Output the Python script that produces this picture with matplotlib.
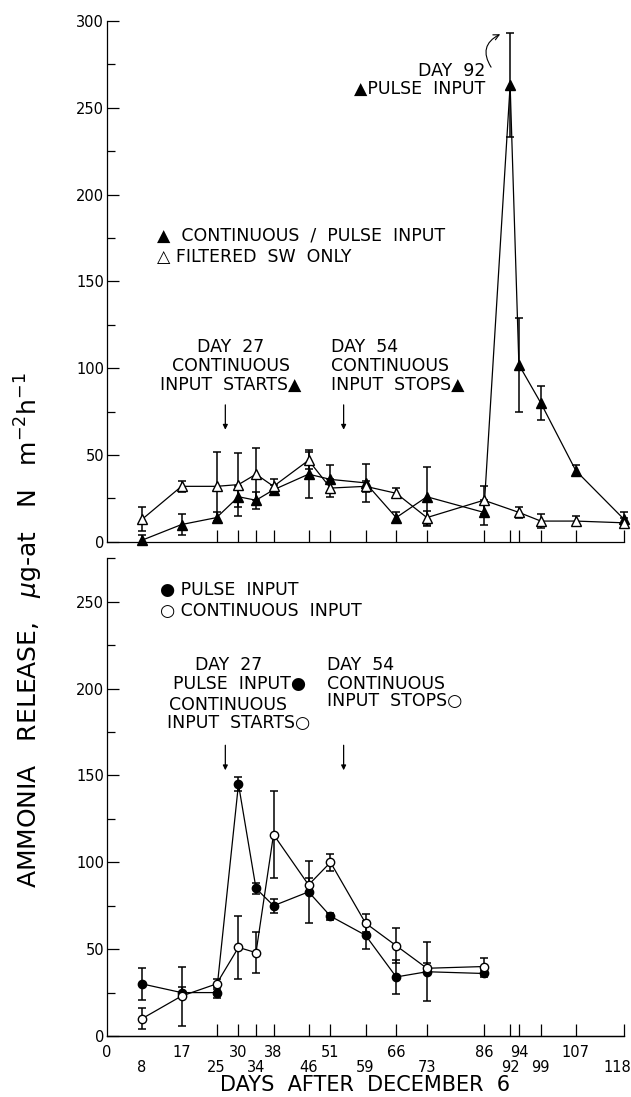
import numpy as np
import matplotlib.pyplot as plt
from matplotlib.ticker import MultipleLocator
from matplotlib.transforms import ScaledTranslation

# sample days (days after December 6)
days_top = [8, 17, 25, 30, 34, 38, 46, 51, 59, 66, 73, 86, 92, 94, 99, 107, 118]
pulse_top = [1, 10, 14, 26, 24, 30, 39, 36, 34, 14, 26, 17, 263, 102, 80, 41, 13]
pulse_top_err = [3, 6, 3, 6, 5, 3, 14, 8, 11, 3, 17, 7, 30, 27, 10, 3, 4]

days_filt = [8, 17, 25, 30, 34, 38, 46, 51, 59, 66, 73, 86, 94, 99, 107, 118]
filt_top = [13, 32, 32, 33, 39, 32, 47, 31, 32, 28, 14, 24, 17, 12, 12, 11]
filt_top_err = [7, 3, 20, 18, 15, 4, 5, 5, 3, 3, 4, 8, 3, 4, 3, 3]

days_bot = [8, 17, 25, 30, 34, 38, 46, 51, 59, 66, 73, 86]
pulse_bot = [30, 25, 25, 145, 85, 75, 83, 69, 58, 34, 37, 36]
pulse_bot_err = [9, 3, 3, 4, 3, 4, 18, 2, 8, 10, 17, 2]
cont_bot = [10, 23, 30, 51, 48, 116, 87, 100, 65, 52, 39, 40]
cont_bot_err = [6, 17, 3, 18, 12, 25, 4, 5, 5, 10, 3, 5]

row1_days = [0, 17, 30, 38, 51, 66, 86, 94, 107]
row2_days = [8, 25, 34, 46, 59, 73, 92, 99, 118]
mark_days = [25, 30, 34, 38, 46, 51, 59, 66, 73, 86, 92, 94, 99, 107, 118]

fig = plt.figure(figsize=(6.31, 10.97), dpi=100)
ax1 = fig.add_axes([0.1696, 0.506, 0.8194, 0.475])
ax2 = fig.add_axes([0.1696, 0.0556, 0.8194, 0.4354])

ebkw = dict(color='black', ecolor='black', lw=0.9, elinewidth=1.1,
            capsize=3, capthick=1.1, clip_on=False)
fs = 12.5


def style_axes(ax, ymax):
    ax.set_xlim(0, 118)
    ax.set_ylim(0, ymax)
    for s in ['top', 'right']:
        ax.spines[s].set_visible(False)
    for s in ['left', 'bottom']:
        ax.spines[s].set_linewidth(0.9)
    ax.yaxis.set_major_locator(MultipleLocator(50))
    ax.yaxis.set_minor_locator(MultipleLocator(25))
    ax.tick_params(axis='y', which='major', direction='in', length=8.5,
                   width=0.9, labelsize=10.5, pad=2)
    ax.tick_params(axis='y', which='minor', direction='in', length=6, width=0.9)


# top panel
ax1.errorbar(days_top, pulse_top, yerr=pulse_top_err, fmt='-^', ms=6.5,
             mfc='black', mec='black', zorder=3, **ebkw)
ax1.errorbar(days_filt, filt_top, yerr=filt_top_err, fmt='-^', ms=6.5,
             mfc='white', mec='black', zorder=4, **ebkw)
style_axes(ax1, 300)
ax1.set_xticks(mark_days, [''] * len(mark_days))
ax1.tick_params(axis='x', which='major', direction='in', length=8.5, width=0.9)

ax1.text(86.3, 271, 'DAY  92', ha='right', va='center', fontsize=fs)
ax1.text(86.3, 261, '\u25b2PULSE  INPUT', ha='right', va='center', fontsize=fs)
ax1.annotate('', xy=(90.3, 293), xytext=(88.0, 272),
             arrowprops=dict(arrowstyle='->', lw=0.8,
                             connectionstyle='arc3,rad=-0.6'))
ax1.text(11.4, 176, '\u25b2  CONTINUOUS  /  PULSE  INPUT', ha='left', va='center', fontsize=fs)
ax1.text(11.4, 164, '\u25b3 FILTERED  SW  ONLY', ha='left', va='center', fontsize=fs)
ax1.text(28.3, 101.3, 'DAY  27\nCONTINUOUS\nINPUT  STARTS\u25b2', ha='center',
         va='center', fontsize=fs, linespacing=1.05)
ax1.text(51.1, 101.3, 'DAY  54\nCONTINUOUS\nINPUT  STOPS\u25b2', ha='left',
         va='center', fontsize=fs, linespacing=1.05)
for d in [27, 54]:
    ax1.annotate('', xy=(d, 63), xytext=(d, 80.5),
                 arrowprops=dict(arrowstyle='-|>', lw=0.9, color='black',
                                 mutation_scale=7))

# bottom panel
ax2.errorbar(days_bot, pulse_bot, yerr=pulse_bot_err, fmt='-o', ms=6,
             mfc='black', mec='black', zorder=3, **ebkw)
ax2.errorbar(days_bot, cont_bot, yerr=cont_bot_err, fmt='-o', ms=6,
             mfc='white', mec='black', zorder=4, **ebkw)
style_axes(ax2, 275)
ax2.set_xticks(row1_days, [str(d) for d in row1_days])
ax2.set_xticks(row2_days, [str(d) for d in row2_days], minor=True)
ax2.tick_params(axis='x', which='major', length=0, labelsize=10.5, pad=6.5)
ax2.tick_params(axis='x', which='minor', length=0, labelsize=10.5, pad=17.5)
last = ax2.xaxis.get_minor_ticks()[-1].label1
last.set_horizontalalignment('right')
last.set_transform(last.get_transform() + ScaledTranslation(7 / 100, 0, fig.dpi_scale_trans))

marks = ax2.secondary_xaxis(0)
marks.set_xticks(mark_days, [''] * len(mark_days))
marks.tick_params(direction='in', length=8.5, width=0.9)
marks.spines['bottom'].set_linewidth(0.9)

ax2.set_xlabel('DAYS  AFTER  DECEMBER  6', fontsize=15)
ax2.xaxis.label.set_verticalalignment('bottom')
ax2.xaxis.set_label_coords(0.5, (2 / 1097 - 0.0556) / 0.4354)

ax2.text(12.1, 256.8, '\u25cf PULSE  INPUT', ha='left', va='center', fontsize=fs)
ax2.text(12.1, 244.7, '\u25cb CONTINUOUS  INPUT', ha='left', va='center', fontsize=fs)
ax2.text(20.1, 213.6, 'DAY  27', ha='left', va='center', fontsize=fs)
ax2.text(45.4, 202.6, 'PULSE  INPUT\u25cf', ha='right', va='center', fontsize=fs)
ax2.text(14.2, 190.6, 'CONTINUOUS', ha='left', va='center', fontsize=fs)
ax2.text(46.3, 180.2, 'INPUT  STARTS\u25cb', ha='right', va='center', fontsize=fs)
ax2.text(50.2, 213.6, 'DAY  54', ha='left', va='center', fontsize=fs)
ax2.text(50.2, 202.6, 'CONTINUOUS', ha='left', va='center', fontsize=fs)
ax2.text(50.2, 192.9, 'INPUT  STOPS\u25cb', ha='left', va='center', fontsize=fs)
for d in [27, 54]:
    ax2.annotate('', xy=(d, 151.4), xytext=(d, 169),
                 arrowprops=dict(arrowstyle='-|>', lw=0.9, color='black',
                                 mutation_scale=7))

fig.text(0.046, 0.4257, 'AMMONIA   RELEASE,   $\\mu$g-at   N   m$^{-2}$h$^{-1}$',
         rotation=90, ha='center', va='center', fontsize=18)

fig.savefig('out.png', dpi=100)
